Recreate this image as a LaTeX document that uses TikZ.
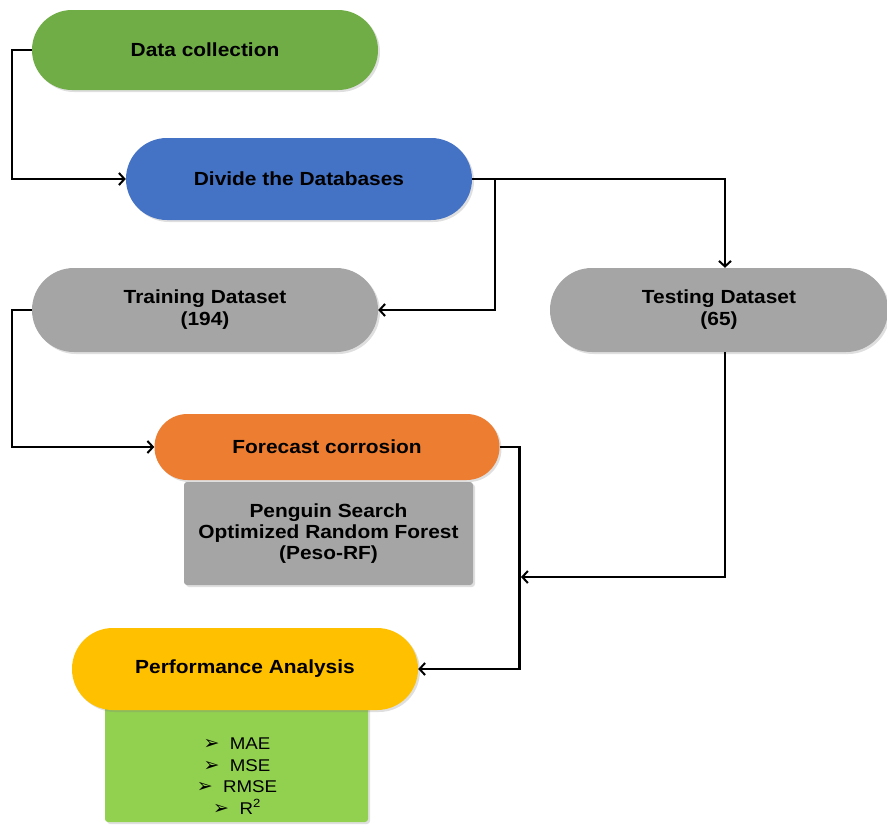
\documentclass[tikz,border=0pt]{standalone}
\usepackage{fontspec}
\setmainfont{Liberation Sans}[FakeStretch=1.1]
\newfontfamily\symfont{DejaVu Sans}
\usetikzlibrary{arrows.meta,shadows}
\definecolor{cgreen}{HTML}{70AD47}
\definecolor{cblue}{HTML}{4472C4}
\definecolor{cgray}{HTML}{A5A5A5}
\definecolor{corange}{HTML}{ED7D31}
\definecolor{cyellow}{HTML}{FFC000}
\definecolor{clgreen}{HTML}{92D050}
\newcommand{\bul}{{\symfont\fontsize{19}{19}\selectfont ➢}\ \ }
\tikzset{
  pill/.style={rectangle, draw=none, minimum width=346pt, minimum height=#1, rounded corners=#1/2-0.1pt,
    inner sep=0pt, align=center, font=\fontsize{19}{22}\selectfont\bfseries,
    drop shadow={opacity=0.25, shadow xshift=2pt, shadow yshift=-2pt}},
  boxsq/.style={rectangle, draw=none, rounded corners=3pt, inner sep=0pt, align=center,
    drop shadow={opacity=0.25, shadow xshift=2pt, shadow yshift=-2pt}},
  arr/.style={line width=2.5pt, -{Straight Barb[length=5.5pt,width=12pt,line width=2pt]}}
}
\begin{document}
\begin{tikzpicture}[x=1pt,y=-1pt]
\useasboundingbox (0,0) rectangle (887,825);
% nodes
\node[pill=80pt, fill=cgreen] (dc) at (205,50) {Data collection};
\node[pill=82pt, fill=cblue] (div) at (299,179) {Divide the Databases};
\node[pill=84pt, fill=cgray] (train) at (205,310) {Training Dataset\\(194)};
\node[pill=84pt, fill=cgray, minimum width=338pt] (test) at (719,310) {Testing Dataset\\(65)};
\node[boxsq, fill=cgray, minimum width=289pt, minimum height=103pt,
  font=\fontsize{19}{21}\selectfont\bfseries] (peso) at (328.5,533.5)
  {Penguin Search\\Optimized Random Forest\\(Peso-RF)};
\node[pill=66pt, fill=corange, minimum width=345pt] (fc) at (327,447) {Forecast corrosion};
\node[boxsq, fill=clgreen, minimum width=263pt, minimum height=117pt] (met) at (236.5,763.5) {};
\node[align=center, inner sep=0pt, font=\fontsize{17}{21.5}\selectfont] (mettext) at (237,776)
  {\bul MAE\\ \bul MSE\\ \bul RMSE\\ \bul R\textsuperscript{2}};
\node[pill=82pt, fill=cyellow] (perf) at (245,669) {Performance Analysis};
\coordinate (j) at (521,577);
% connectors
\draw[arr] (dc.west) -- ++(-20,0) |- (div.west);
\draw[arr] (div.east) -| ([xshift=6pt]test.north);
\draw[arr] ([xshift=23pt]div.east) |- (train.east);
\draw[arr] (train.west) -- ++(-20,0) |- (fc.west);
\draw[arr] (fc.east) -- ++(20,0) |- (perf.east);
\draw[arr] ([xshift=6pt]test.south) |- (j);
\end{tikzpicture}
\end{document}
